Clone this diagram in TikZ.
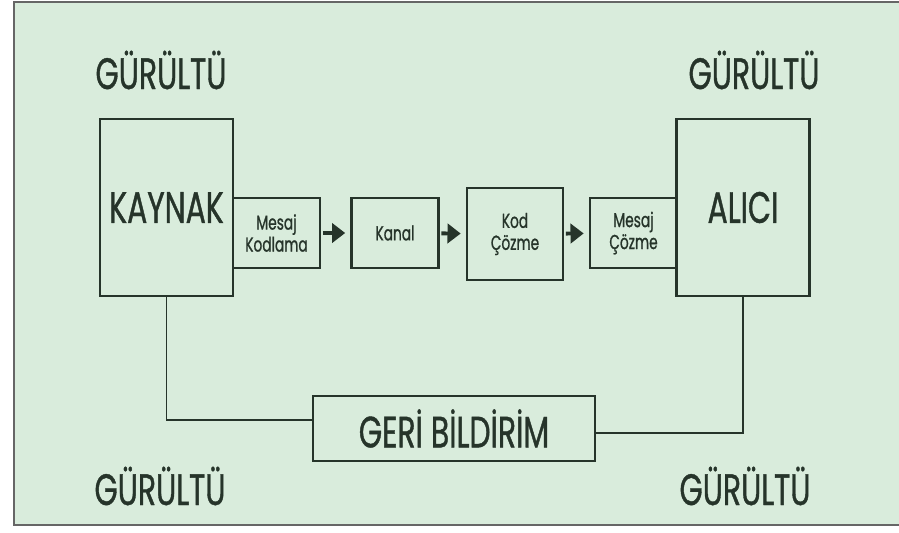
\documentclass[tikz,border=0pt]{standalone}
\usepackage{fontspec}
\setmainfont[FakeStretch=0.68,FakeBold=0.9]{Poppins}
\usetikzlibrary{arrows.meta}
\definecolor{panelgreen}{RGB}{217,236,220}
\definecolor{inkdark}{RGB}{38,52,42}

\tikzset{
  block/.style={draw=inkdark,line width=1.2pt,inner sep=0pt,align=center,text=inkdark},
  bigblock/.style={block,minimum width=2.66cm,minimum height=3.54cm,font=\fontsize{25}{27}\selectfont},
  smallblock/.style={block,minimum width=1.74cm,minimum height=1.4cm,font=\fontsize{11.5}{12.5}\selectfont},
  noise/.style={text=inkdark,font=\fontsize{25}{27}\selectfont},
  flow/.style={inkdark,line width=2.2pt,-{Triangle[length=7.5pt,width=11pt]},shorten <=1pt,shorten >=3pt},
  loop/.style={inkdark,line width=1.1pt}
}

\begin{document}
\begin{tikzpicture}[x=0.02cm,y=-0.02cm]
    \useasboundingbox (0,0) rectangle (899,532);
    % panel
    \fill[white] (0,0) rectangle (899,532);
    \draw[fill=panelgreen,draw=gray!80!black,line width=1pt] (14,2) rectangle (905,525);

    % noise labels
    \node[noise] (noisetl) at (161,70) {GÜRÜLTÜ};
    \node[noise] (noisetr) at (754,70) {GÜRÜLTÜ};
    \node[noise] (noisebl) at (160,486) {GÜRÜLTÜ};
    \node[noise] (noisebr) at (745,486) {GÜRÜLTÜ};

    % source and receiver
    \node[bigblock] (kaynak) at (166.5,207.5) {KAYNAK};
    \node[bigblock] (alici) at (743,207.5) {ALICI};

    % channel chain
    \node[smallblock] (kodlama) at (276.5,233) {Mesaj\\Kodlama};
    \node[smallblock] (kanal) at (395,233) {Kanal};
    \node[smallblock,minimum width=1.92cm,minimum height=1.84cm] (kodcoz) at (515,234) {Kod\\Çözme};
    \node[smallblock] (mesajcoz) at (633.5,233) {Mesaj\\Çözme};

    \draw[flow] (kodlama) -- (kanal);
    \draw[flow] (kanal) -- (kodcoz);
    \draw[flow] (kodcoz) -- (mesajcoz);

    % feedback path
    \node[block,minimum width=5.64cm,minimum height=1.3cm,font=\fontsize{25}{27}\selectfont] (geri) at (454,428.5) {GERİ BİLDİRİM};
    \draw[loop] (kaynak.south) |- ([yshift=5pt]geri.west);
    \draw[loop] (alici.south) |- ([yshift=-2.5pt]geri.east);
\end{tikzpicture}
\end{document}
